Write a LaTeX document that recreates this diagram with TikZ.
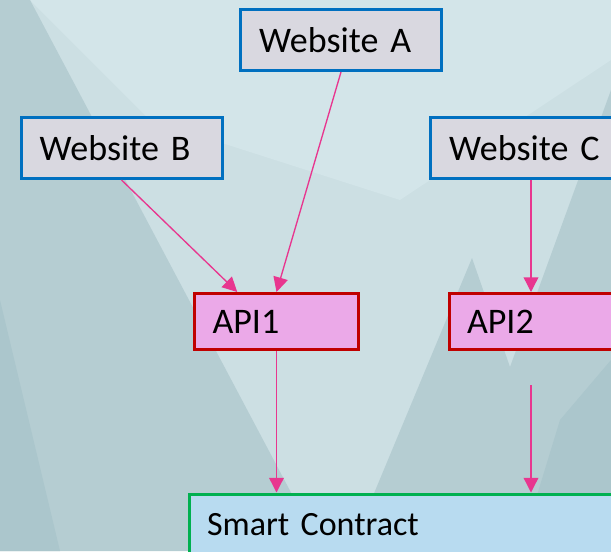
\documentclass[tikz,border=0pt]{standalone}
\usepackage{fontspec}
\setmainfont{Carlito}
\usetikzlibrary{arrows.meta,calc}
\definecolor{bglight}{HTML}{CCDFE3}
\definecolor{bgtop}{HTML}{D3E5E9}
\definecolor{bgdark}{HTML}{B5CDD2}
\definecolor{bgdarker}{HTML}{ABC6CC}
\definecolor{webfill}{HTML}{D9D8E0}
\definecolor{webline}{HTML}{0070C0}
\definecolor{apifill}{HTML}{EBA9E8}
\definecolor{apiline}{HTML}{C00000}
\definecolor{scfill}{HTML}{B8DBF0}
\definecolor{scline}{HTML}{00B050}
\definecolor{linkpink}{HTML}{E8368F}
\begin{document}
\begin{tikzpicture}[x=0.75pt,y=-0.75pt,
  box/.style={draw, rectangle, line width=2.25pt, inner ysep=0pt,
    font=\fontsize{27}{32}\selectfont, align=left, anchor=center},
  webbox/.style={box, draw=webline, fill=webfill, inner xsep=14pt,
    minimum width=150.75pt, text width=122.75pt, minimum height=45.75pt},
  apibox/.style={box, draw=apiline, fill=apifill, inner xsep=13.5pt,
    minimum width=123pt, text width=96pt, minimum height=42pt},
  scbox/.style={box, draw=scline, fill=scfill, inner xsep=13.5pt,
    font=\fontsize{25.5}{30}\selectfont,
    minimum width=375pt, text width=348pt, minimum height=45.75pt},
  link/.style={draw=linkpink, line width=1pt, -{Triangle[width=11pt,length=11pt]}}]
\useasboundingbox (0,0) rectangle (611,551);
\clip (0,0) rectangle (611,551);
% background
\fill[bglight] (0,0) rectangle (611,551);
\fill[bgtop] (30,0) -- (611,0) -- (611,60) -- (400,200) -- (150,120) -- cycle;
\fill[bgdark] (0,0) -- (30,0) -- (322,551) -- (0,551) -- cycle;
\fill[bgdark] (350,551) -- (472,258) -- (510,367) -- (611,90) -- (611,551) -- cycle;
\fill[bgdarker] (0,300) -- (60,551) -- (0,551) -- cycle;
\fill[bgdarker] (520,551) -- (560,420) -- (611,360) -- (611,551) -- cycle;
% nodes
\node[webbox] (wa) at (341,40) {Website A};
\node[webbox] (wb) at (121.5,148) {Website B};
\node[webbox] (wc) at (531,148) {Website C};
\node[apibox] (api1) at (276.5,321.5) {API1};
\node[apibox] (api2) at (531,321.5) {API2};
\node[scbox, anchor=north west] (sc) at (187.5,492.5) {Smart Contract};
\coordinate (api2out) at (531,385);
% connectors
\draw[link] (wb.south) -- ($(api1.north west)!0.265!(api1.north east)$);
\draw[link] (wa.south) -- (api1.north);
\draw[link] (wc.south) -- (api2.north);
\draw[link] (api1.south) -- (api1.south |- sc.north);
\draw[link] (api2out) -- (api2out |- sc.north);
\end{tikzpicture}
\end{document}
